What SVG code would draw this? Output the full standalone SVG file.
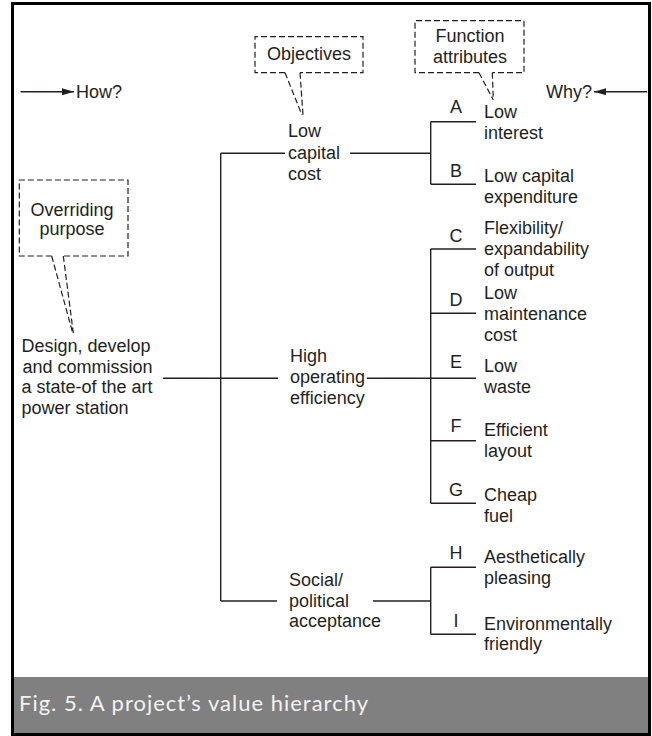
<svg xmlns="http://www.w3.org/2000/svg" width="652" height="736" viewBox="0 0 652 736">
<style>
.t{font-family:"Liberation Sans",Arial,Helvetica,sans-serif;font-size:18px;fill:#231f20}
.c{text-anchor:middle}
.ln{stroke:#231f20;stroke-width:1.4;fill:none}
.dash{stroke:#231f20;stroke-width:1.2;fill:none;stroke-dasharray:6 3}
.cap{font-family:"Lato","Open Sans",sans-serif;font-size:22px;fill:#f2f2f2}
</style>
<defs>
<marker id="ah" markerUnits="userSpaceOnUse" markerWidth="14" markerHeight="9" refX="12" refY="3.5" orient="auto">
<path d="M0,0 L12,3.5 L0,7 z" fill="#231f20"/>
</marker>
</defs>
<rect x="0" y="0" width="652" height="736" fill="#ffffff"/>
<rect x="12.5" y="3.5" width="637" height="731" fill="none" stroke="#000" stroke-width="3"/>
<rect x="14" y="677" width="634" height="56" fill="#808080"/>
<text class="cap" x="19" y="711" textLength="349" lengthAdjust="spacing">Fig. 5. A project’s value hierarchy</text>

<g id="connectors">
<line class="ln" x1="220.7" y1="153.3" x2="220.7" y2="601"/>
<line class="ln" x1="220.7" y1="153.3" x2="285" y2="153.3"/>
<line class="ln" x1="163" y1="378.3" x2="278" y2="378.3"/>
<line class="ln" x1="220.7" y1="601" x2="277" y2="601"/>
<line class="ln" x1="350" y1="153.3" x2="430.7" y2="153.3"/>
<line class="ln" x1="366.7" y1="378.3" x2="430.7" y2="378.3"/>
<line class="ln" x1="373" y1="601" x2="430.7" y2="601"/>
<line class="ln" x1="430.7" y1="121.7" x2="430.7" y2="184.3"/>
<line class="ln" x1="430.7" y1="249" x2="430.7" y2="503.3"/>
<line class="ln" x1="430.7" y1="567.3" x2="430.7" y2="634.3"/>
<line class="ln" x1="430.7" y1="121.7" x2="476" y2="121.7"/>
<line class="ln" x1="430.7" y1="184.3" x2="476" y2="184.3"/>
<line class="ln" x1="430.7" y1="249" x2="476" y2="249"/>
<line class="ln" x1="430.7" y1="313.3" x2="476" y2="313.3"/>
<line class="ln" x1="430.7" y1="378.3" x2="476" y2="378.3"/>
<line class="ln" x1="430.7" y1="440.7" x2="476" y2="440.7"/>
<line class="ln" x1="430.7" y1="503.3" x2="476" y2="503.3"/>
<line class="ln" x1="430.7" y1="567.3" x2="476" y2="567.3"/>
<line class="ln" x1="430.7" y1="634.3" x2="476" y2="634.3"/>
<line class="ln" x1="20.5" y1="91.7" x2="74" y2="91.7" marker-end="url(#ah)"/>
<line class="ln" x1="647" y1="91.7" x2="594" y2="91.7" marker-end="url(#ah)"/>
</g>

<g id="how"><text class="t" x="76" y="97.5">How?</text></g>
<g id="why"><text class="t" x="546" y="97.5">Why?</text></g>

<g id="callout-objectives">
<path class="dash" d="M285,72.7 L255,72.7 L255,36.7 L363,36.7 L363,72.7 L300,72.7"/>
<path class="dash" d="M285,72.7 L302,115 M300,72.7 L303,115"/>
<text class="t c" x="309" y="60">Objectives</text>
</g>

<g id="callout-function">
<path class="dash" d="M479,72.7 L415,72.7 L415,20.7 L524,20.7 L524,72.7 L492.3,72.7"/>
<path class="dash" d="M479,72.7 L493.3,100 M492.3,72.7 L493.3,100"/>
<text class="t c" x="470" y="41.7">Function</text>
<text class="t c" x="470" y="62.7">attributes</text>
</g>

<g id="callout-purpose">
<path class="dash" d="M51.7,256 L19.3,256 L19.3,180 L128,180 L128,256 L63.3,256"/>
<path class="dash" d="M51.7,256 L72.7,333 M63.3,256 L73.3,333"/>
<text class="t c" x="72" y="215.7">Overriding</text>
<text class="t c" x="72" y="235">purpose</text>
</g>

<g id="purpose">
<text class="t" x="21.5" y="351.7">Design, develop</text>
<text class="t" x="22.5" y="372.7">and commission</text>
<text class="t" x="21.5" y="393.3">a state-of the art</text>
<text class="t" x="21.5" y="413.5">power station</text>
</g>

<g id="obj-low-capital-cost">
<text class="t" x="288" y="137">Low</text>
<text class="t" x="288" y="158.5">capital</text>
<text class="t" x="288" y="180">cost</text>
</g>
<g id="obj-high-operating-efficiency">
<text class="t" x="290" y="361.7">High</text>
<text class="t" x="290" y="382.7">operating</text>
<text class="t" x="290" y="403.5">efficiency</text>
</g>
<g id="obj-social-political">
<text class="t" x="289" y="586">Social/</text>
<text class="t" x="289" y="606.7">political</text>
<text class="t" x="289" y="627.3">acceptance</text>
</g>

<g id="attr-A"><text class="t c" x="456" y="113">A</text>
<text class="t" x="484" y="118.3">Low</text><text class="t" x="484" y="139.3">interest</text></g>
<g id="attr-B"><text class="t c" x="456" y="176.7">B</text>
<text class="t" x="484" y="181.7">Low capital</text><text class="t" x="484" y="202.5">expenditure</text></g>
<g id="attr-C"><text class="t c" x="456" y="242.3">C</text>
<text class="t" x="484" y="234.3">Flexibility/</text><text class="t" x="484" y="255">expandability</text><text class="t" x="484" y="275.7">of output</text></g>
<g id="attr-D"><text class="t c" x="456" y="306">D</text>
<text class="t" x="484" y="299.3">Low</text><text class="t" x="484" y="320">maintenance</text><text class="t" x="484" y="340.7">cost</text></g>
<g id="attr-E"><text class="t c" x="456" y="368.3">E</text>
<text class="t" x="484" y="372.3">Low</text><text class="t" x="484" y="393.3">waste</text></g>
<g id="attr-F"><text class="t c" x="456" y="431.7">F</text>
<text class="t" x="484" y="436">Efficient</text><text class="t" x="484" y="456.7">layout</text></g>
<g id="attr-G"><text class="t c" x="456" y="496">G</text>
<text class="t" x="484" y="500.7">Cheap</text><text class="t" x="484" y="521.7">fuel</text></g>
<g id="attr-H"><text class="t c" x="456" y="559.3">H</text>
<text class="t" x="484" y="563.3">Aesthetically</text><text class="t" x="484" y="584">pleasing</text></g>
<g id="attr-I"><text class="t c" x="456" y="626.7">I</text>
<text class="t" x="484" y="630">Environmentally</text><text class="t" x="484" y="650">friendly</text></g>
</svg>
